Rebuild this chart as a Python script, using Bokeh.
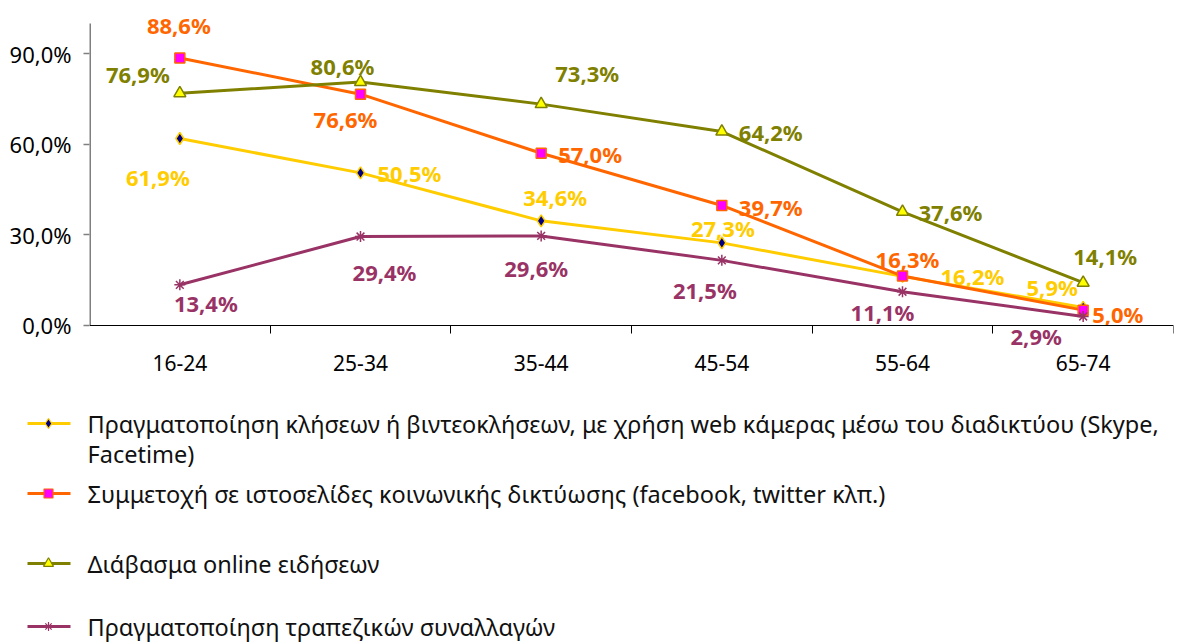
from bokeh.plotting import figure
from bokeh.models import Range1d, FixedTicker, ColumnDataSource
from bokeh.embed import file_html
from bokeh.resources import INLINE
from bokeh.core.properties import value

# ---------------- data ----------------
categories = ["16-24", "25-34", "35-44", "45-54", "55-64", "65-74"]
calls = [61.9, 50.5, 34.6, 27.3, 16.2, 5.9]
social = [88.6, 76.6, 57.0, 39.7, 16.3, 5.0]
news = [76.9, 80.6, 73.3, 64.2, 37.6, 14.1]
banking = [13.4, 29.4, 29.6, 21.5, 11.1, 2.9]
y_ticks = [0, 30, 60, 90]
y_tick_labels = ["0,0%", "30,0%", "60,0%", "90,0%"]
y_axis_max = 100
legend_names = [
    ["Πραγματοποίηση κλήσεων ή βιντεοκλήσεων, με χρήση web κάμερας μέσω του διαδικτύου (Skype,",
     "Facetime)"],
    ["Συμμετοχή σε ιστοσελίδες κοινωνικής δικτύωσης (facebook, twitter κλπ.)"],
    ["Διάβασμα online ειδήσεων"],
    ["Πραγματοποίηση τραπεζικών συναλλαγών"],
]

# ---------------- styles ----------------
FONT = "Noto Sans"
styles = [
    dict(color="#FFCC00", marker="diamond", fill="#000080", size=12, lsize=10),
    dict(color="#FF6600", marker="square", fill="#FF00FF", size=10, lsize=9),
    dict(color="#808000", marker="triangle", fill="#FFFF00", size=12, lsize=10),
    dict(color="#993366", marker="asterisk", fill="#993366", size=11, lsize=9),
]
# label offsets in px (dx right, dy down) and alignment per point
offsets = [
    [(-22, 38, "center"), (17, 0, "left"), (14, -24, "center"), (1, -15, "center"), (38, 0, "left"), (-31, -20, "center")],
    [(-1, -33, "center"), (-15, 25, "center"), (17, 1, "left"), (17, 2, "left"), (5, -17, "center"), (9, 4, "left")],
    [(-42, -19, "center"), (-18, -16, "center"), (46, -31, "center"), (17, 0, "left"), (16, 0, "left"), (22, -27, "center")],
    [(26, 18, "center"), (24, 35, "center"), (-5, 32, "center"), (-17, 30, "center"), (-20, 20, "center"), (-47, 20, "center")],
]

series = [calls, social, news, banking]

# ---------------- main chart ----------------
W = 1178
# frame extends beyond 0..100 so that data labels and the category axis are not clipped
p = figure(width=W, height=380, output_backend="svg", toolbar_location=None,
           x_range=Range1d(0, len(categories)), y_range=Range1d(-17, 105),
           min_border_left=89, min_border_right=5, min_border_top=8, min_border_bottom=4)
p.outline_line_color = None
p.xgrid.visible = False
p.ygrid.visible = False

xs = [i + 0.5 for i in range(len(categories))]

# y axis line over 0..100 only
p.segment(x0=[0], y0=[0], x1=[0], y1=[y_axis_max], line_color="#808080", line_width=3)

for vals, st, offs in zip(series, styles, offsets):
    src = ColumnDataSource(dict(
        x=xs, y=vals,
        txt=[f"{v:.1f}".replace(".", ",") + "%" for v in vals],
        dx=[o[0] for o in offs], dy=[o[1] for o in offs], al=[o[2] for o in offs],
    ))
    p.line("x", "y", source=src, line_color=st["color"], line_width=3)
    p.scatter("x", "y", source=src, marker=st["marker"], size=st["size"],
              fill_color=st["fill"], line_color=st["color"], line_width=1.5)
    p.text("x", "y", text="txt", source=src, x_offset="dx", y_offset="dy", text_align="al",
           text_baseline="middle", text_color=st["color"], text_font=value(FONT),
           text_font_size="22px", text_font_style="bold")

# x axis (fixed at y = 0)
xa = p.xaxis[0]
xa.fixed_location = 0
xa.ticker = FixedTicker(ticks=xs, minor_ticks=list(range(1, len(categories) + 1)))
xa.major_label_overrides = {x: c for x, c in zip(xs, categories)}
xa.major_tick_out = 0
xa.major_tick_in = 0
xa.minor_tick_out = 8
xa.minor_tick_in = 0
xa.minor_tick_line_color = "black"
xa.axis_line_color = "black"
xa.axis_line_width = 1.2
xa.major_label_standoff = 22
xa.major_label_text_font = FONT
xa.major_label_text_font_size = "21px"
xa.major_label_text_color = "black"

# y axis
ya = p.yaxis[0]
ya.ticker = FixedTicker(ticks=y_ticks, minor_ticks=[])
ya.major_label_overrides = {t: l for t, l in zip(y_ticks, y_tick_labels)}
ya.axis_line_color = None
ya.major_tick_line_color = "#808080"
ya.major_tick_line_width = 1.5
ya.major_tick_out = 6
ya.major_tick_in = 0
ya.major_label_standoff = 12
ya.major_label_text_font = FONT
ya.major_label_text_font_size = "22px"
ya.major_label_text_color = "black"

# ---------------- legend (separate panel) ----------------
LH = 262
lg = figure(width=W, height=LH, output_backend="svg", toolbar_location=None,
            x_range=Range1d(0, W), y_range=Range1d(LH, 0),
            min_border_left=0, min_border_right=0, min_border_top=0, min_border_bottom=0)
lg.axis.visible = False
lg.xgrid.visible = False
lg.ygrid.visible = False
lg.outline_line_color = None

entry_y = [43, 113, 183, 246]
line_gap = 30
for names, st, yy in zip(legend_names, styles, entry_y):
    lg.line([27, 70], [yy, yy], line_color=st["color"], line_width=3)
    lg.scatter([48], [yy], marker=st["marker"], size=st["lsize"],
               fill_color=st["fill"], line_color=st["color"], line_width=1.2)
    for k, nm in enumerate(names):
        lg.text([87], [yy + k * line_gap], text=[nm], text_baseline="middle", text_align="left",
                text_color="#111111", text_font=value(FONT), text_font_size="23.5px")

open("out.html", "w").write(file_html([p, lg], INLINE))
